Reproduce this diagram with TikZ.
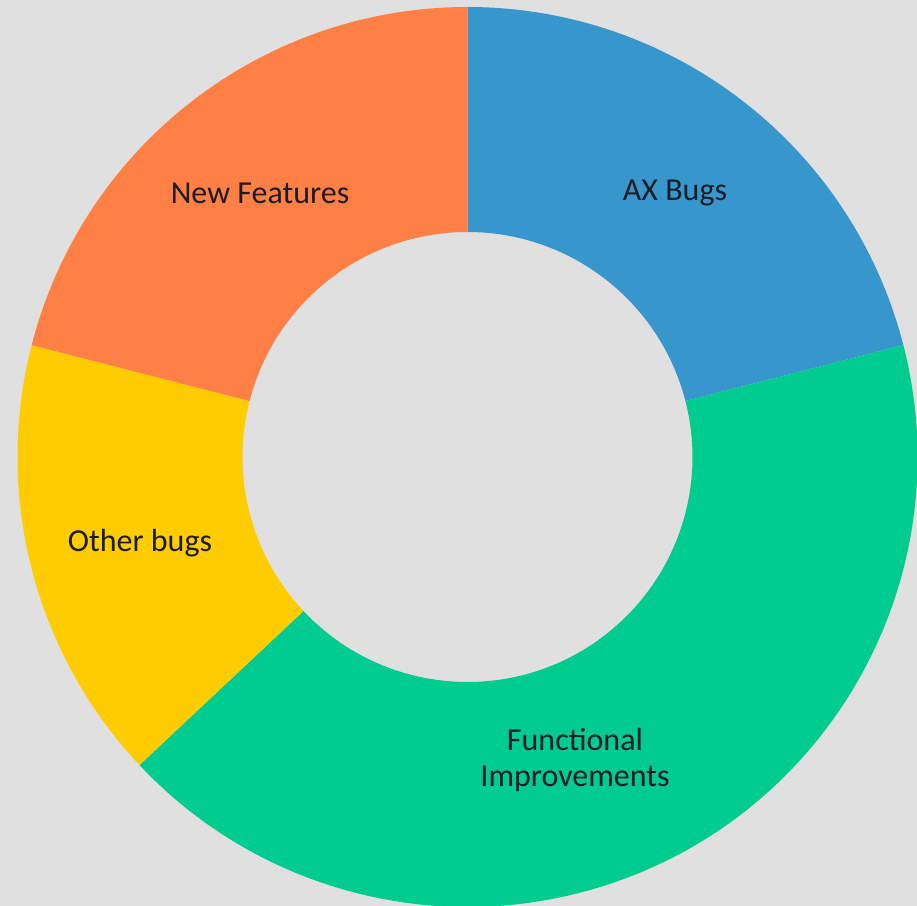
\documentclass[tikz,border=0pt]{standalone}
\usepackage{fontspec}
\setmainfont{Carlito}
\definecolor{bgc}{RGB}{224,224,224}
\definecolor{axblue}{RGB}{55,151,204}
\definecolor{fgreen}{RGB}{0,204,144}
\definecolor{oyellow}{RGB}{255,204,0}
\definecolor{norange}{RGB}{255,127,69}
\definecolor{txt}{RGB}{28,28,38}
\begin{document}
\begin{tikzpicture}[x=0.5pt,y=0.5pt,
  lbl/.style={text=txt,font=\fontsize{16}{18}\selectfont,align=center,inner sep=0pt}]
\fill[bgc] (0,0) rectangle (917,906);
\useasboundingbox (0,0) rectangle (917,906);
\coordinate (c) at (467.5,449);
\newcommand{\slice}[3]{%
  \fill[#3] ([shift={(#1:225pt)}]c) arc[start angle=#1,end angle=#2,radius=225pt]
    -- ([shift={(#2:112.5pt)}]c) arc[start angle=#2,end angle=#1,radius=112.5pt] -- cycle;}
\slice{90}{14.4}{axblue}
\slice{14.4}{-136.8}{fgreen}
\slice{223.2}{165.6}{oyellow}
\slice{165.6}{90}{norange}
\node[lbl] (ax) at (675,713) {AX Bugs};
\node[lbl] (nf) at (260,713) {New Features};
\node[lbl] (ob) at (140,363) {Other bugs};
\node[lbl] (fi) at (575,146) {Functional\\Improvements};
\end{tikzpicture}
\end{document}
